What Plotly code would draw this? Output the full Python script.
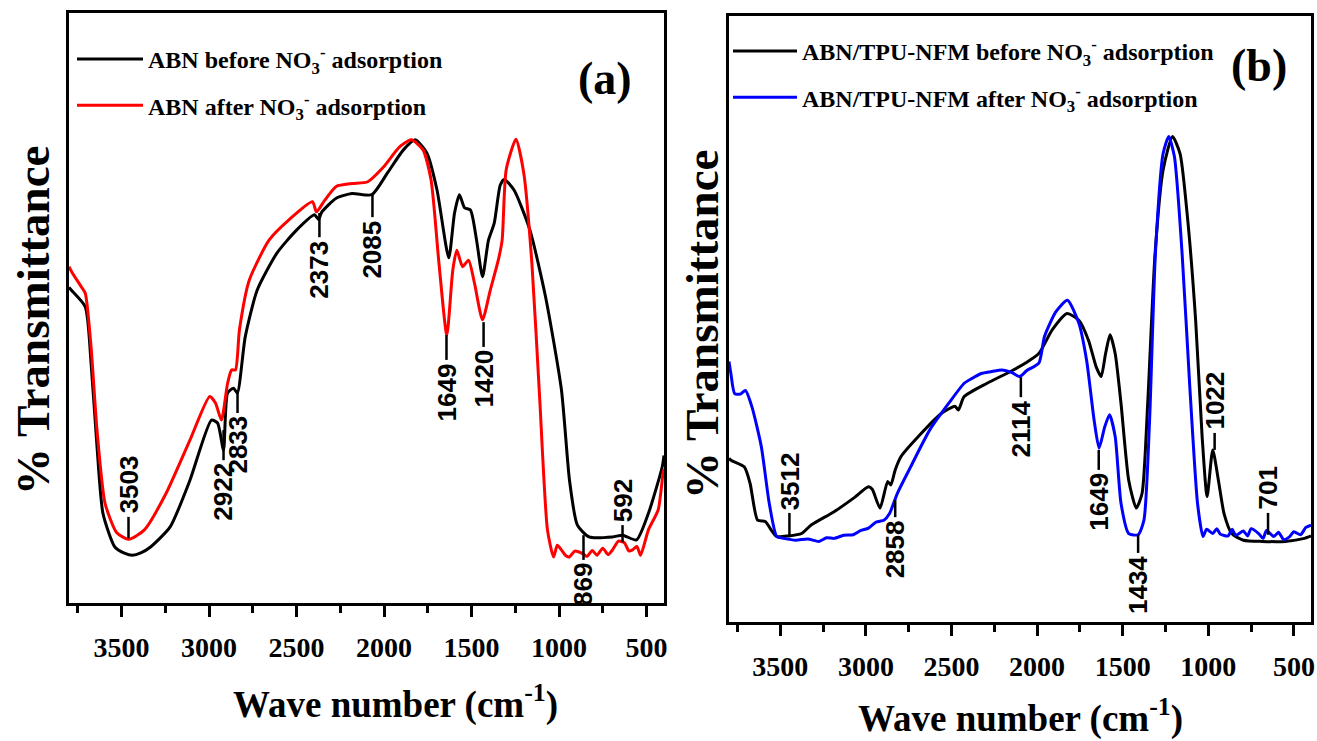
import plotly.graph_objects as go

W, H = 1317, 741

# ---------------- data: panel (a) ----------------
wn_a_before = [3800, 3786, 3707, 3674, 3640, 3606, 3538, 3480, 3437, 3390, 3334, 3222, 3109, 2986, 2951,
               2917, 2894, 2860, 2838, 2793, 2725, 2612, 2500, 2397, 2374, 2355, 2273, 2183, 2070, 1980,
               1889, 1822, 1754, 1697, 1630, 1597, 1569, 1540, 1506, 1471, 1437, 1403, 1370, 1336, 1313,
               1257, 1166, 1077, 986, 940, 895, 828, 694, 637, 557, 489, 410, 400]
t_a_before = [53.5, 53, 50.2, 40.7, 26.5, 15.2, 9.5, 8.4, 8.1, 8.5, 9.5, 12.9, 20.8, 31.0, 30.5,
              25.9, 35.6, 36.4, 35.6, 45.1, 53, 59.3, 63.2, 65.8, 65.0, 66.3, 68.6, 69.4, 69.2, 72.9,
              76.8, 78.5, 76.2, 70, 58.5, 66.1, 69.2, 67, 66.6, 61.5, 55.3, 61.5, 64.4, 70.8, 71.8,
              70, 63.2, 51.9, 36.1, 20.8, 13.2, 11.2, 11.2, 11.5, 10.7, 15.2, 23.1, 25]

wn_a_after = [3800, 3786, 3730, 3707, 3674, 3640, 3594, 3527, 3459, 3369, 3245, 3109, 2996, 2963, 2929,
              2894, 2871, 2849, 2826, 2770, 2657, 2545, 2409, 2386, 2340, 2273, 2183, 2093, 2003, 1911,
              1844, 1777, 1731, 1686, 1641, 1607, 1584, 1551, 1517, 1483, 1437, 1393, 1347, 1325, 1302,
              1246, 1201, 1155, 1111, 1066, 1031, 1010, 986, 960, 940, 910, 873, 840, 810, 783, 750,
              720, 694, 660, 626, 600, 580, 555, 534, 489, 433, 403, 400]
t_a_after = [57, 56.2, 53.6, 52.5, 43.4, 29.3, 16.9, 11.9, 10.8, 12.4, 18.6, 27.6, 35, 33.9, 31.0,
             37.2, 39.5, 39.5, 46.3, 54.7, 61.5, 64.9, 68, 66.3, 68.2, 70.6, 71.1, 71.4, 73.9, 77.3,
             78.5, 76.8, 71.7, 57.6, 45.4, 56.4, 59.8, 57, 58.1, 54.2, 48, 53, 58.1, 61.5, 73.4,
             78.6, 72.8, 57.6, 35, 12.4, 7.8, 9.8, 9.0, 8.0, 7.8, 8.8, 8.5, 7.9, 8.9, 8.1, 9.3,
             8.2, 9, 10.5, 10.2, 8.8, 9, 9.6, 8.1, 12.4, 15.8, 22.5, 22]

# ---------------- data: panel (b) ----------------
wn_b_before = [3800, 3789, 3711, 3677, 3633, 3588, 3554, 3521, 3453, 3376, 3320, 3186, 3074, 2985, 2963,
               2918, 2873, 2855, 2829, 2795, 2694, 2560, 2480, 2460, 2426, 2292, 2158, 2070, 1990, 1912,
               1825, 1756, 1700, 1655, 1626, 1600, 1574, 1544, 1510, 1465, 1421, 1387, 1354, 1311, 1264,
               1209, 1165, 1120, 1074, 1036, 1007, 974, 941, 908, 863, 795, 684, 550, 438, 400]
t_b_before = [27, 26.7, 25.6, 22.9, 16.8, 16.6, 15.2, 14.1, 14.2, 14.6, 16, 18.2, 20.4, 22.3, 21.9,
              18.8, 23.2, 22.6, 25.1, 27.3, 30.6, 34.4, 35.6, 35.0, 37.2, 39.4, 41.3, 42.7, 44.3, 48.2,
              50.9, 49.8, 46.5, 42.1, 40.5, 44.3, 47.4, 44.3, 36.1, 23.4, 18.8, 21.2, 36.1, 60.8, 74.6,
              80.1, 77.3, 66.3, 49.8, 30.6, 20.7, 28.4, 23.4, 17.9, 14.6, 13.5, 13.3, 13.3, 13.8, 14.2]

wn_b_after = [3800, 3789, 3767, 3734, 3704, 3666, 3611, 3565, 3521, 3480, 3410, 3340, 3275, 3230, 3186,
              3130, 3074, 3030, 2985, 2940, 2895, 2862, 2817, 2739, 2627, 2516, 2426, 2380, 2326, 2270,
              2204, 2150, 2102, 2060, 1990, 1957, 1890, 1823, 1756, 1711, 1667, 1638, 1605, 1577, 1544,
              1510, 1465, 1410, 1376, 1343, 1309, 1264, 1231, 1198, 1153, 1108, 1063, 1031, 1010, 974,
              950, 930, 885, 860, 840, 795, 770, 750, 706, 680, 660, 617, 590, 560, 528, 500, 461, 430, 400]
t_b_after = [43, 41, 37.7, 37.6, 38.2, 35.5, 28.9, 19.6, 14.1, 13.8, 13.5, 13.7, 13.3, 13.9, 13.8,
             14.3, 14.4, 15.1, 15.5, 16.5, 16.8, 17.9, 21.2, 25.6, 31.7, 36.1, 39.4, 40.2, 41, 41.3,
             41.6, 41.2, 40.5, 41.5, 42.7, 47.1, 51.2, 53.1, 49.3, 43.2, 33.3, 28.7, 32.2, 34.2, 30.6,
             19.6, 14.6, 14.4, 16.8, 33.3, 60.8, 77.3, 80.1, 76.8, 60.8, 38.8, 19.6, 14.1, 15.3, 14.6,
             15.4, 14.5, 14.2, 15.3, 14.3, 15.0, 14.2, 15.4, 14.6, 13.8, 15.1, 14.1, 14.8, 13.6, 14,
             14.9, 14.4, 15.6, 16]

# ---------------- peak labels ----------------
a_peak_labels = ["3503", "2922", "2833", "2373", "2085", "1649", "1420", "869", "592"]
a_peak_wn = [3460, 2917, 2837, 2369, 2066, 1643, 1431, 860, 637]
a_peak_top = [14.6, 29.3, 36.1, 66.1, 69.2, 45.4, 47.6, 11.5, 13.2]
a_peak_bot = [11.0, 24.2, 32.2, 62.0, 65.4, 41.2, 43.4, 7.3, 10.3]
a_peak_side = ["above", "below", "below", "below", "below", "below", "below", "below", "above"]

b_peak_labels = ["3512", "2858", "2114", "1649", "1434", "1022", "701"]
b_peak_wn = [3447, 2829, 2095, 1640, 1410, 963, 651]
b_peak_top = [18.0, 20.1, 40.4, 28.4, 14.4, 31.2, 18.0]
b_peak_bot = [14.0, 17.3, 37.1, 25.1, 11.4, 28.4, 14.4]
b_peak_side = ["above", "below", "below", "below", "below", "above", "above"]

x_ticks = [3500, 3000, 2500, 2000, 1500, 1000, 500]
x_minor_ticks = [3750, 3250, 2750, 2250, 1750, 1250, 750]
x_range = [3800, 400]

SERIF = "Liberation Serif"
SANS = "Liberation Sans"
LINE_SHAPE = dict(shape="spline", smoothing=0.6)

fig = go.Figure()
fig.add_trace(go.Scatter(x=wn_a_before, y=t_a_before, mode="lines",
                         line=dict(color="black", width=3, **LINE_SHAPE),
                         name="ABN before NO<sub>3</sub><sup>-</sup> adsorption",
                         xaxis="x", yaxis="y", legend="legend", legendgroup="a1"))
fig.add_trace(go.Scatter(x=wn_a_after, y=t_a_after, mode="lines",
                         line=dict(color="#ff0000", width=3, **LINE_SHAPE),
                         name="ABN after NO<sub>3</sub><sup>-</sup> adsorption",
                         xaxis="x", yaxis="y", legend="legend", legendgroup="a2"))
fig.add_trace(go.Scatter(x=wn_b_before, y=t_b_before, mode="lines",
                         line=dict(color="black", width=3, **LINE_SHAPE),
                         name="ABN/TPU-NFM before NO<sub>3</sub><sup>-</sup> adsorption",
                         xaxis="x2", yaxis="y2", legend="legend2", legendgroup="b1"))
fig.add_trace(go.Scatter(x=wn_b_after, y=t_b_after, mode="lines",
                         line=dict(color="#0000ff", width=3, **LINE_SHAPE),
                         name="ABN/TPU-NFM after NO<sub>3</sub><sup>-</sup> adsorption",
                         xaxis="x2", yaxis="y2", legend="legend2", legendgroup="b2"))

shapes = []
annotations = []
peak_font = dict(family=SANS, size=26, color="black", weight="bold")


def add_peaks(labels, wns, tops, bots, sides, xr, yr):
    for lab, w, t, b, s in zip(labels, wns, tops, bots, sides):
        shapes.append(dict(type="line", xref=xr, yref=yr, x0=w, x1=w, y0=b, y1=t,
                           line=dict(color="black", width=2.5)))
        if s == "above":
            annotations.append(dict(x=w, y=t, xref=xr, yref=yr, text=lab, showarrow=False,
                                    textangle=-90, yanchor="bottom", xanchor="center", yshift=1,
                                    font=peak_font))
        else:
            annotations.append(dict(x=w, y=b, xref=xr, yref=yr, text=lab, showarrow=False,
                                    textangle=-90, yanchor="top", xanchor="center", yshift=-1,
                                    font=peak_font))


add_peaks(a_peak_labels, a_peak_wn, a_peak_top, a_peak_bot, a_peak_side, "x", "y")
add_peaks(b_peak_labels, b_peak_wn, b_peak_top, b_peak_bot, b_peak_side, "x2", "y2")


def px(x):
    return x / W


def py(y):
    return 1 - y / H


title_font = dict(family=SERIF, size=47, color="black", weight="bold")
xt_font = dict(family=SERIF, size=37, color="black", weight="bold")
annotations += [
    dict(x=px(33), y=py(321), xref="paper", yref="paper", text="% Transmittance", textangle=-90,
         showarrow=False, font=title_font, xanchor="center", yanchor="middle"),
    dict(x=px(702), y=py(325), xref="paper", yref="paper", text="% Transmittance", textangle=-90,
         showarrow=False, font=title_font, xanchor="center", yanchor="middle"),
    dict(x=px(395), y=py(702), xref="paper", yref="paper", text="Wave number (cm<sup>-1</sup>)",
         showarrow=False, font=xt_font, xanchor="center", yanchor="middle"),
    dict(x=px(1020), y=py(716), xref="paper", yref="paper", text="Wave number (cm<sup>-1</sup>)",
         showarrow=False, font=xt_font, xanchor="center", yanchor="middle"),
    dict(x=px(605), y=py(78), xref="paper", yref="paper", text="(a)", showarrow=False,
         font=dict(family=SERIF, size=46, color="black", weight="bold"), xanchor="center", yanchor="middle"),
    dict(x=px(1259), y=py(66), xref="paper", yref="paper", text="(b)", showarrow=False,
         font=dict(family=SERIF, size=46, color="black", weight="bold"), xanchor="center", yanchor="middle"),
]

xaxis_common = dict(range=x_range, tickmode="array", tickvals=x_ticks, ticks="outside", ticklen=11,
                    tickwidth=2.5, tickcolor="black", showline=True, linewidth=3, linecolor="black",
                    mirror=True, showgrid=False, zeroline=False, automargin=False,
                    tickfont=dict(family=SERIF, size=28, color="black", weight="bold"),
                    ticklabelstandoff=6,
                    minor=dict(tickmode="array", tickvals=x_minor_ticks,
                               ticks="outside", ticklen=7, tickwidth=2.5, tickcolor="black", showgrid=False))
yaxis_common = dict(range=[0, 100], showticklabels=False, ticks="", showline=True, linewidth=3,
                    linecolor="black", mirror=True, showgrid=False, zeroline=False, automargin=False)

legend_font = dict(family=SERIF, size=24, color="black", weight="bold")
fig.update_layout(
    width=W, height=H, margin=dict(l=0, r=0, t=0, b=0),
    paper_bgcolor="white", plot_bgcolor="white",
    xaxis=dict(domain=[px(69), px(664)], anchor="y", **xaxis_common),
    yaxis=dict(domain=[py(603), py(13)], anchor="x", **yaxis_common),
    xaxis2=dict(domain=[px(729), px(1311)], anchor="y2", **xaxis_common),
    yaxis2=dict(domain=[py(622), py(16)], anchor="x2", **yaxis_common),
    legend=dict(x=px(72), y=py(37), xanchor="left", yanchor="top", bgcolor="rgba(0,0,0,0)",
                font=legend_font, itemwidth=66, tracegroupgap=12),
    legend2=dict(x=px(728), y=py(29), xanchor="left", yanchor="top", bgcolor="rgba(0,0,0,0)",
                 font=legend_font, itemwidth=64, tracegroupgap=12),
    shapes=shapes, annotations=annotations, showlegend=True,
)

fig.write_html("out.html", config={"displayModeBar": False},
               post_script="document.body.style.margin='0';")
